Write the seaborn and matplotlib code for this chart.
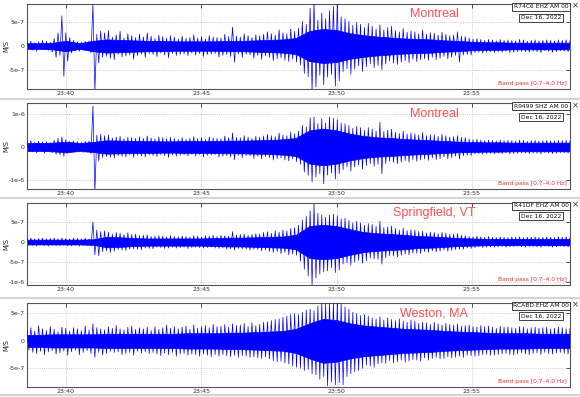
import numpy as np
import pandas as pd
import matplotlib
matplotlib.use("Agg")
import matplotlib.pyplot as plt
from matplotlib.lines import Line2D
import seaborn as sns

# ---------------- data (velocity, units of 1e-7 m/s) ----------------
t_start, t_end = 38.56, 58.63          # minutes after 23:00
stations = ["Montreal", "Montreal", "Springfield, VT", "Weston, MA"]
channels = ["R74C6 EHZ AM 00", "R9499 SHZ AM 00", "R41DF EHZ AM 00", "RCABD EHZ AM 00"]
date_label = "Dec 16, 2022"
filter_label = "Band pass [0.7\u20134.0 Hz]"

# successive peak / trough amplitudes of each trace (evenly spaced in time)
trace_r74c6 = [
    0.8, -0.6, 1.0, -0.9, 0.7, -1.1, 0.9, -0.7, 1.2, -0.8, 1.0, -0.9, 0.8, -1.3, 1.6, -2.4, 2.8, -2.0, 6.4, -6.4,
    2.8, -3.2, 1.8, -1.5, 1.2, -1.0, 0.9, -1.1, 0.8, -0.9, 1.0, -0.8, 1.1, -1.5, 8.8, -9.5, 2.5, -3.6, 3.2, -2.4,
    2.8, -2.2, 3.3, -2.6, 1.9, -2.9, 2.4, -1.8, 3.1, -2.3, 1.7, -2.1, 2.6, -1.9, 2.2, -2.8, 1.8, -2.0, 2.5, -1.7,
    1.9, -2.4, 2.8, -1.6, 2.1, -1.8, 1.6, -2.2, 2.3, -1.5, 2.0, -1.9, 1.7, -2.5, 2.2, -1.6, 1.9, -2.0, 1.5, -1.8,
    2.1, -1.7, 1.6, -2.0, 1.8, -1.5, 2.4, -1.9, 1.7, -1.6, 2.0, -2.2, 1.5, -1.8, 2.2, -1.7, 1.9, -1.6, 1.8, -2.3,
    1.7, -2.0, 2.5, -1.8, 2.0, -2.2, 4.0, -3.4, 2.1, -1.7, 1.9, -2.4, 2.6, -1.8, 2.2, -1.9, 1.8, -2.6, 2.4, -2.0,
    2.2, -2.8, 2.5, -2.1, 3.0, -2.4, 2.6, -3.1, 2.3, -2.7, 3.4, -2.5, 2.8, -3.0, 2.6, -3.3, 3.6, -2.8, 3.1, -3.4,
    3.8, -4.0, 5.2, -5.8, 4.6, -6.5, 8.0, -9.5, 9.5, -8.7, 5.5, -6.2, 7.0, -8.2, 5.8, -6.6, 7.5, -6.0, 8.4, -8.5,
    9.2, -7.4, 6.2, -5.4, 5.8, -4.8, 5.2, -6.0, 4.4, -4.9, 5.0, -4.2, 4.6, -5.4, 3.9, -4.4, 4.8, -3.8, 4.2, -4.6,
    3.6, -4.1, 4.5, -5.0, 3.4, -3.8, 3.9, -3.2, 4.2, -3.6, 3.3, -3.9, 3.0, -3.4, 3.7, -3.1, 2.9, -3.5, 3.2, -2.8,
    3.0, -3.3, 2.6, -2.9, 3.4, -2.7, 2.5, -3.0, 2.8, -2.4, 2.7, -2.9, 2.3, -2.6, 2.9, -2.2, 2.5, -2.7, 2.2, -2.4,
    2.3, -2.0, 3.0, -3.4, 2.1, -1.9, 2.0, -1.8, 1.7, -1.9, 1.5, -1.4, 1.6, -1.3, 1.4, -1.5, 1.2, -1.3, 1.4, -1.2,
    1.3, -1.4, 1.1, -1.2, 1.4, -1.3, 1.2, -1.1, 1.3, -1.4, 1.2, -1.3, 1.1, -1.2, 1.4, -1.1, 1.3, -1.2, 1.0, -1.3,
    1.2, -1.1, 1.3, -1.2, 1.1, -1.4, 1.2, -1.0, 1.3, -1.1, 1.2, -1.3, 1.1, -1.2, 1.3, -1.0, 1.2, -1.1, 1.3, -1.2,
    1.1,
]
trace_r9499 = [
    1.6, -1.3, 1.9, -1.5, 1.4, -1.8, 1.7, -1.2, 1.5, -1.9, 1.6, -1.4, 1.3, -1.7, 2.0, -2.2, 2.6, -2.4, 3.0, -2.8,
    2.2, -2.0, 1.7, -1.5, 1.8, -1.4, 1.6, -1.5, 1.4, -1.6, 1.7, -1.5, 1.8, -2.0, 12.3, -13.5, 3.6, -4.2, 3.8, -3.2,
    3.4, -2.9, 3.6, -3.1, 2.7, -3.3, 3.0, -2.6, 3.2, -2.8, 2.5, -3.0, 2.9, -2.4, 2.8, -3.1, 2.6, -2.5, 3.0, -2.7,
    2.6, -3.0, 3.3, -2.4, 2.7, -2.6, 2.4, -2.9, 3.0, -2.3, 2.8, -2.6, 2.5, -3.1, 2.9, -2.4, 2.6, -2.8, 2.3, -2.5,
    2.8, -2.4, 2.3, -2.7, 2.6, -2.2, 3.1, -2.7, 2.5, -2.3, 2.8, -3.0, 2.3, -2.5, 3.0, -2.4, 2.7, -2.3, 2.6, -3.0,
    2.5, -2.8, 3.3, -2.6, 2.8, -3.0, 4.2, -3.8, 2.9, -2.5, 2.8, -3.2, 3.4, -2.6, 3.0, -2.7, 2.6, -3.4, 3.2, -2.8,
    3.0, -3.6, 3.3, -2.9, 3.8, -3.2, 3.4, -3.9, 3.1, -3.5, 4.2, -3.3, 3.6, -3.9, 3.4, -4.2, 4.5, -3.6, 4.0, -4.4,
    4.8, -5.2, 6.5, -7.5, 6.0, -8.5, 8.8, -10.5, 9.0, -9.0, 7.0, -8.0, 8.5, -11.0, 7.2, -8.4, 9.0, -7.8, 8.6, -9.6,
    8.2, -8.0, 7.2, -6.8, 7.0, -6.0, 6.5, -7.2, 5.6, -6.0, 6.2, -5.4, 5.8, -6.6, 5.0, -5.6, 5.8, -5.0, 5.4, -5.8,
    4.8, -5.2, 7.4, -8.0, 4.6, -5.0, 5.0, -4.3, 5.3, -4.6, 4.4, -5.0, 4.0, -4.5, 4.8, -4.1, 3.9, -4.6, 4.2, -3.8,
    4.0, -4.3, 3.6, -3.9, 4.4, -3.6, 3.4, -4.0, 3.7, -3.3, 3.6, -3.8, 3.2, -3.5, 3.8, -3.0, 3.4, -3.6, 3.0, -3.2,
    3.1, -2.8, 3.4, -3.6, 2.9, -2.7, 2.8, -2.5, 2.4, -2.6, 2.2, -2.1, 2.3, -2.0, 2.1, -2.2, 1.9, -2.0, 2.1, -1.9,
    2.0, -2.1, 1.8, -1.9, 2.1, -2.0, 1.9, -1.8, 2.0, -2.1, 1.9, -2.0, 1.8, -1.9, 2.1, -1.8, 2.0, -1.9, 1.7, -2.0,
    1.9, -1.8, 2.0, -1.9, 1.8, -2.1, 1.9, -1.7, 2.0, -1.8, 1.9, -2.0, 1.8, -1.9, 2.0, -1.7, 1.9, -1.8, 2.0, -1.9,
    1.8,
]
trace_r41df = [
    0.9, -0.8, 1.0, -0.9, 0.8, -1.0, 0.9, -0.7, 1.0, -0.9, 0.8, -1.0, 0.9, -0.8, 1.0, -0.9, 0.8, -0.9, 1.0, -0.8,
    0.9, -1.0, 0.8, -0.9, 1.0, -0.8, 0.9, -1.0, 0.8, -0.9, 1.0, -0.9, 0.8, -1.0, 5.0, -3.2, 3.0, -3.4, 2.6, -2.4,
    2.8, -2.2, 2.5, -2.6, 2.0, -2.3, 2.4, -1.9, 2.2, -2.0, 1.9, -2.1, 2.3, -1.8, 1.9, -1.7, 2.0, -1.8, 1.6, -1.9,
    1.7, -1.5, 1.8, -1.6, 1.4, -1.7, 1.5, -1.3, 1.6, -1.4, 1.5, -1.6, 1.3, -1.5, 1.6, -1.3, 1.4, -1.5, 1.3, -1.4,
    1.5, -1.3, 1.4, -1.6, 1.3, -1.4, 1.6, -1.3, 1.5, -1.4, 1.3, -1.5, 1.6, -1.4, 1.5, -1.3, 1.7, -1.5, 1.4, -1.6,
    1.7, -1.5, 1.6, -1.8, 1.5, -1.7, 2.6, -2.0, 1.8, -1.6, 1.9, -1.7, 2.0, -1.8, 1.7, -2.0, 1.9, -1.8, 2.1, -1.9,
    2.0, -2.2, 2.4, -2.0, 2.6, -2.3, 2.2, -2.6, 2.8, -2.4, 2.5, -2.9, 3.0, -2.6, 2.8, -3.2, 3.4, -3.0, 3.6, -3.3,
    4.2, -4.8, 5.5, -6.8, 6.4, -8.5, 7.8, -10.8, 9.6, -9.0, 7.2, -8.0, 6.8, -7.5, 6.2, -7.2, 6.8, -6.4, 7.0, -7.6,
    6.6, -7.0, 5.8, -5.5, 6.0, -5.2, 5.4, -5.8, 4.8, -5.0, 5.2, -4.6, 4.8, -5.3, 4.2, -4.7, 4.6, -4.0, 4.4, -4.2,
    3.9, -4.3, 5.2, -5.5, 3.6, -3.9, 3.8, -3.4, 4.0, -3.5, 3.4, -3.7, 3.0, -3.3, 3.5, -3.0, 2.9, -3.2, 3.1, -2.8,
    3.0, -2.8, 2.6, -2.9, 2.7, -2.4, 2.3, -2.6, 2.5, -2.2, 2.4, -2.5, 2.1, -2.3, 2.4, -2.0, 2.2, -2.3, 1.9, -2.1,
    2.0, -1.9, 2.1, -1.8, 1.7, -1.8, 1.6, -1.5, 1.4, -1.6, 1.3, -1.4, 1.5, -1.2, 1.3, -1.4, 1.2, -1.3, 1.4, -1.2,
    1.2, -1.3, 1.1, -1.2, 1.3, -1.1, 1.2, -1.3, 1.1, -1.2, 1.3, -1.1, 1.2, -1.0, 1.3, -1.2, 1.1, -1.3, 1.2, -1.1,
    1.2, -1.1, 1.3, -1.2, 1.1, -1.3, 1.2, -1.0, 1.3, -1.1, 1.2, -1.3, 1.1, -1.2, 1.3, -1.0, 1.2, -1.1, 1.3, -1.2,
    1.1,
]
trace_rcabd = [
    2.0, -1.7, 2.4, -2.1, 1.8, -2.3, 2.8, -1.9, 2.2, -2.5, 1.9, -2.0, 2.6, -1.8, 2.1, -2.4, 1.7, -2.2, 2.5, -1.9,
    2.3, -2.6, 1.8, -2.0, 2.4, -1.7, 2.2, -2.5, 1.9, -2.1, 2.7, -1.8, 2.0, -2.3, 3.1, -3.0, 2.4, -2.1, 2.2, -2.6,
    2.0, -2.3, 2.6, -1.9, 2.3, -2.1, 2.8, -2.0, 2.2, -2.5, 2.0, -2.3, 2.5, -2.1, 2.7, -2.6, 2.1, -1.9, 2.4, -2.2,
    2.2, -2.0, 2.5, -2.3, 1.9, -2.1, 2.6, -2.4, 2.1, -2.7, 2.4, -2.2, 2.9, -2.5, 2.3, -2.1, 2.6, -2.8, 2.2, -2.4,
    2.5, -2.3, 2.7, -2.6, 2.1, -2.4, 2.9, -2.5, 2.3, -2.8, 2.6, -2.4, 2.8, -2.6, 2.4, -2.9, 3.0, -2.5, 2.6, -2.8,
    2.7, -2.5, 3.0, -2.7, 2.5, -2.9, 3.1, -2.6, 2.8, -3.0, 2.9, -2.7, 3.2, -2.8, 2.6, -3.0, 3.3, -2.9, 2.8, -3.1,
    3.0, -3.2, 3.4, -2.9, 3.5, -3.3, 3.7, -3.6, 3.9, -3.8, 4.0, -3.7, 4.3, -4.0, 4.5, -4.2, 4.8, -4.6, 5.0, -4.8,
    4.8, -5.0, 5.2, -5.4, 5.6, -5.2, 5.8, -6.0, 5.5, -6.2, 6.4, -7.0, 7.0, -6.5, 6.8, -8.2, 7.0, -7.5, 7.0, -8.0,
    7.0, -7.6, 6.8, -8.0, 6.2, -6.5, 5.8, -6.0, 5.2, -5.6, 5.0, -5.4, 4.6, -5.0, 4.8, -4.4, 4.5, -4.6, 4.2, -4.8,
    4.0, -4.2, 4.4, -4.0, 3.8, -4.1, 4.2, -3.6, 3.9, -4.0, 3.7, -3.8, 4.0, -3.5, 3.6, -3.9, 3.4, -3.7, 3.8, -3.4,
    3.6, -3.5, 3.2, -3.7, 3.4, -3.1, 3.3, -3.5, 3.0, -3.2, 3.4, -3.0, 3.1, -3.3, 2.9, -3.2, 3.2, -2.9, 3.0, -3.1,
    2.9, -3.0, 3.1, -2.8, 2.7, -3.0, 2.8, -2.6, 2.9, -2.7, 2.6, -2.8, 2.5, -2.7, 2.8, -2.5, 2.6, -2.4, 2.7, -2.6,
    2.5, -2.6, 2.3, -2.5, 2.7, -2.4, 2.5, -2.3, 2.6, -2.5, 2.4, -2.6, 2.3, -2.4, 2.6, -2.2, 2.5, -2.4, 2.2, -2.5,
    2.4, -2.3, 2.5, -2.2, 2.3, -2.5, 2.4, -2.1, 2.5, -2.3, 2.2, -2.4, 2.3, -2.2, 2.5, -2.1, 2.4, -2.3, 2.2, -2.4,
    2.3,
]
traces = [trace_r74c6, trace_r9499, trace_r41df, trace_rcabd]

# half-width of the dense core of each trace, every 30 s from 23:38:30 to 23:59:00
core_r74c6 = [0.6, 0.6, 0.7, 1.1, 0.6, 1.1, 1.4, 1.3, 1.2, 1.1, 1.1, 1.0, 1.0, 1.0,
              1.0, 1.1, 1.1, 1.2, 1.3, 1.4, 1.7, 3.2, 3.6, 3.4, 2.7, 2.3, 2.0, 1.8,
              1.6, 1.5, 1.4, 1.2, 1.1, 0.9, 0.8, 0.8, 0.7, 0.7, 0.7, 0.7, 0.7, 0.7]
core_r9499 = [1.2, 1.2, 1.3, 1.6, 1.2, 1.5, 2.0, 1.9, 1.8, 1.8, 1.7, 1.7, 1.8, 1.8,
              1.8, 1.9, 1.9, 2.0, 2.1, 2.3, 2.7, 5.0, 5.5, 5.0, 4.0, 3.3, 2.9, 2.7,
              2.4, 2.2, 2.0, 1.8, 1.6, 1.5, 1.4, 1.4, 1.3, 1.3, 1.3, 1.3, 1.3, 1.3]
core_r41df = [0.6, 0.6, 0.6, 0.6, 0.6, 0.7, 1.3, 1.2, 1.0, 0.9, 0.9, 0.9, 0.9, 0.9,
              1.0, 1.1, 1.1, 1.2, 1.3, 1.4, 1.8, 4.0, 4.3, 4.0, 3.2, 2.5, 2.2, 2.0,
              1.8, 1.5, 1.4, 1.2, 1.0, 0.9, 0.8, 0.8, 0.8, 0.8, 0.8, 0.8, 0.8, 0.8]
core_rcabd = [1.1, 1.1, 1.2, 1.2, 1.2, 1.2, 1.3, 1.3, 1.3, 1.3, 1.3, 1.3, 1.4, 1.4,
              1.4, 1.5, 1.5, 1.6, 1.7, 1.8, 2.2, 3.2, 4.0, 3.8, 3.2, 2.8, 2.6, 2.4,
              2.2, 2.1, 2.0, 1.8, 1.7, 1.6, 1.5, 1.4, 1.4, 1.4, 1.3, 1.3, 1.3, 1.3]
cores = [core_r74c6, core_r9499, core_r41df, core_rcabd]
core_times = np.arange(38.5, 59.01, 0.5)

xtick_pos = [40, 45, 50, 55]
xtick_labels = ["23:40", "23:45", "23:50", "23:55"]
ytick_pos = [[-5, 0, 5], [-10, 0, 10], [-10, -5, 0, 5], [-5, 0, 5]]
ytick_labels = [["-5e-7", "0", "5e-7"], ["-1e-6", "0", "1e-6"],
                ["-1e-6", "-5e-7", "0", "5e-7"], ["-5e-7", "0", "5e-7"]]
ylims = [(-9.1, 8.9), (-12.6, 13.1), (-10.6, 9.75), (-8.4, 6.9)]

# ---------------- layout ----------------
sns.set_style("white")
plt.rcParams["font.family"] = ["DejaVu Sans"]

W, H = 580, 397
fig = plt.figure(figsize=(W / 100, H / 100), dpi=100)
fig.patch.set_facecolor("white")

left_px, right_px = 27, 570
panels_px = [(4, 89), (103.3, 189), (203, 284.5), (303, 387)]
sep_px = [98.5, 198, 297.5, 394.5]
blue = "#0000ff"

for k in range(4):
    top, bot = panels_px[k]
    ax = fig.add_axes([left_px / W, 1 - bot / H, (right_px - left_px) / W, (bot - top) / H])
    y = traces[k]
    df = pd.DataFrame({"t": np.linspace(t_start, t_end, len(y)), "v": y})
    core = np.array(cores[k])
    ax.fill_between(core_times, -core, core, color=blue, lw=0.5, edgecolor=blue, zorder=2)
    sns.lineplot(data=df, x="t", y="v", ax=ax, color=blue, lw=0.5,
                 sort=False, estimator=None, errorbar=None, zorder=3)
    ax.set_xlim(t_start, t_end)
    ax.set_ylim(*ylims[k])
    ax.set_xticks(xtick_pos)
    ax.set_xticklabels(xtick_labels)
    ax.set_yticks(ytick_pos[k])
    ax.set_yticklabels(ytick_labels[k])
    ax.set_xlabel("")
    ax.set_ylabel("M/S", fontsize=4.8, color="#222222")
    ax.yaxis.set_label_coords(-0.033, 0.5)
    ax.tick_params(direction="in", length=3, width=0.6, colors="#333333",
                   labelsize=4.5, top=True, right=True, pad=1.5)
    ax.grid(True, linestyle=(0, (1, 1.5)), color="#c0c0c0", lw=0.6)
    ax.set_axisbelow(True)
    for s in ax.spines.values():
        s.set_color("#555555")
        s.set_linewidth(0.8)

    ax.text(0.75, 0.88, stations[k], transform=ax.transAxes, ha="center", va="center",
            fontsize=9, color="#ff5050", family=["Liberation Sans", "DejaVu Sans"])
    ax.text(0.9466, 0.965, channels[k], transform=ax.transAxes, ha="center", va="center",
            fontsize=4.3, color="#111111",
            bbox=dict(boxstyle="square,pad=0.25", fc="white", ec="#222222", lw=0.6))
    ax.text(0.9466, 0.84, date_label, transform=ax.transAxes, ha="center", va="center",
            fontsize=4.3, color="#111111",
            bbox=dict(boxstyle="square,pad=0.25", fc="white", ec="#222222", lw=0.6))
    ax.text(0.995, 0.035, filter_label, transform=ax.transAxes, ha="right", va="bottom",
            fontsize=4.3, color="#ff2a2a")
    fig.text(575 / W, 1 - (top + 2) / H, "\u00d7", ha="center", va="center",
             fontsize=6, color="#333333")

for yp in sep_px:
    fig.add_artist(Line2D([0, 1], [1 - yp / H, 1 - yp / H], transform=fig.transFigure,
                          color="#d4d4d4", lw=1.6))

fig.savefig("out.png", dpi=100, facecolor="white")
